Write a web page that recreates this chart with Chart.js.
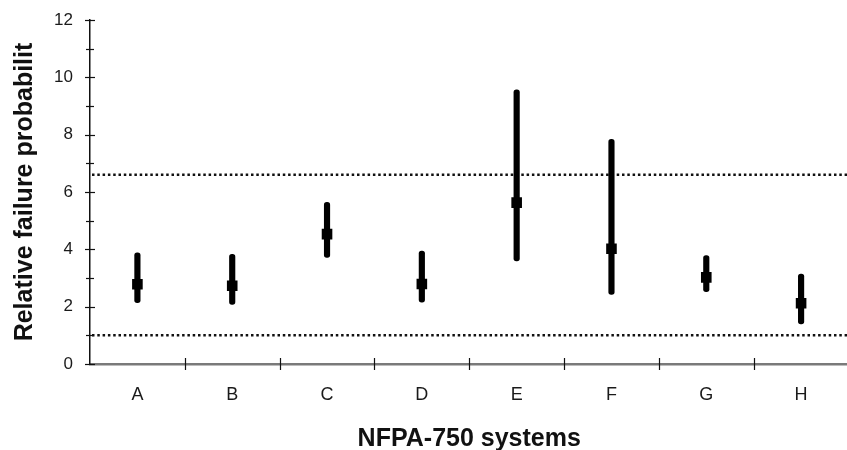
<!DOCTYPE html>
<html>
	<head>
		<meta charset="UTF-8" />
		<title>NFPA-750 systems</title>
		<style type="text/css">
			html, body {
				margin: 0;
				padding: 0;
				overflow: hidden;
				background: #fff;
			}
			.chartBox {
				position: absolute;
				left: 0;
				top: 0;
			}
		</style>
	</head>
	<body>
		<div class="chartBox">
			<canvas id="myChart" width="856" height="458"></canvas>
		</div>
		<script src="https://cdn.jsdelivr.net/npm/chart.js"></script>
		<script>
			// data
			const systems = ['A', 'B', 'C', 'D', 'E', 'F', 'G', 'H'];
			const meanValues = [2.78, 2.73, 4.53, 2.79, 5.63, 4.02, 3.02, 2.12];
			const lowValues = [2.14, 2.08, 3.72, 2.16, 3.60, 2.43, 2.52, 1.40];
			const highValues = [3.88, 3.83, 5.64, 3.94, 9.56, 7.84, 3.78, 3.14];
			const refLines = [6.6, 1.0];

			const ranges = systems.map((s, i) => [lowValues[i], highValues[i]]);

			// dotted reference lines across the plot
			const refLinePlugin = {
				id: 'refLines',
				beforeDatasetsDraw(chart) {
					const ctx = chart.ctx;
					const area = chart.chartArea;
					const y = chart.scales.y;
					ctx.save();
					ctx.strokeStyle = '#111';
					ctx.lineWidth = 2.5;
					ctx.setLineDash([2.5, 2.8]);
					refLines.forEach(v => {
						const py = y.getPixelForValue(v);
						ctx.beginPath();
						ctx.moveTo(area.left + 2, py);
						ctx.lineTo(area.right, py);
						ctx.stroke();
					});
					ctx.restore();
				}
			};

			// tick marks that cross the axis lines
			const crossTicks = {
				id: 'crossTicks',
				afterDraw(chart) {
					const ctx = chart.ctx;
					const x = chart.scales.x;
					const y = chart.scales.y;
					const x0 = chart.chartArea.left;
					const y0 = chart.chartArea.bottom;
					ctx.save();
					ctx.strokeStyle = '#111';
					ctx.lineWidth = 1.2;
					y.ticks.forEach(t => {
						const py = Math.round(y.getPixelForValue(t.value)) + 0.5;
						const len = t.value % 2 === 0 ? 5 : 4;
						ctx.beginPath();
						ctx.moveTo(x0 - len, py);
						ctx.lineTo(x0 + len, py);
						ctx.stroke();
					});
					for (let i = 1; i < systems.length; i++) {
						const px = Math.round(x.getPixelForValue(i - 0.5)) + 0.5;
						ctx.beginPath();
						ctx.moveTo(px, y0 - 6);
						ctx.lineTo(px, y0 + 6);
						ctx.stroke();
					}
					ctx.restore();
				}
			};

			const data = {
				labels: systems,
				datasets: [
					{
						type: 'line',
						label: 'mean',
						data: meanValues,
						showLine: false,
						pointStyle: 'rect',
						pointRadius: 7.5,
						pointBackgroundColor: '#000',
						pointBorderWidth: 0,
						order: 0
					},
					{
						type: 'bar',
						label: 'range',
						data: ranges,
						backgroundColor: '#000',
						barThickness: 5.5,
						borderRadius: 3,
						borderSkipped: false,
						order: 1
					}
				]
			};

			const config = {
				type: 'bar',
				data,
				options: {
					responsive: false,
					animation: false,
					layout: {
						padding: { top: 20, right: 0, left: 0, bottom: 0 }
					},
					plugins: {
						legend: { display: false },
						tooltip: { enabled: false }
					},
					scales: {
						x: {
							offset: true,
							grid: { display: false, offset: true },
							border: { color: '#7a7a7a', width: 2.5 },
							ticks: {
								color: '#1a1a1a',
								padding: 12,
								font: { family: 'Liberation Sans, Arial', size: 18 }
							},
							title: {
								display: true,
								text: 'NFPA-750 systems',
								color: '#111',
								padding: { top: 11 },
								font: { family: 'Liberation Sans, Arial', size: 25, weight: 'bold' }
							},
							afterFit(scale) { scale.height = 94; }
						},
						y: {
							min: 0,
							max: 12,
							grid: { display: false },
							border: { color: '#111', width: 1.5 },
							ticks: {
								stepSize: 1,
								autoSkip: false,
								color: '#1a1a1a',
								padding: 9,
								font: { family: 'Liberation Sans, Arial', size: 17 },
								callback: v => (v % 2 === 0 ? v : '')
							},
							title: {
								display: true,
								text: 'Relative failure probabilit',
								color: '#111',
								padding: { bottom: 0, top: 10 },
								font: { family: 'Liberation Sans, Arial', size: 25, weight: 'bold' }
							},
							afterFit(scale) {
								scale.width = 90;
								scale.paddingTop = 0;
								scale.paddingBottom = 0;
							}
						}
					}
				},
				plugins: [refLinePlugin, crossTicks]
			};

			const myChart = new Chart(document.getElementById('myChart'), config);
		</script>
	</body>
</html>
